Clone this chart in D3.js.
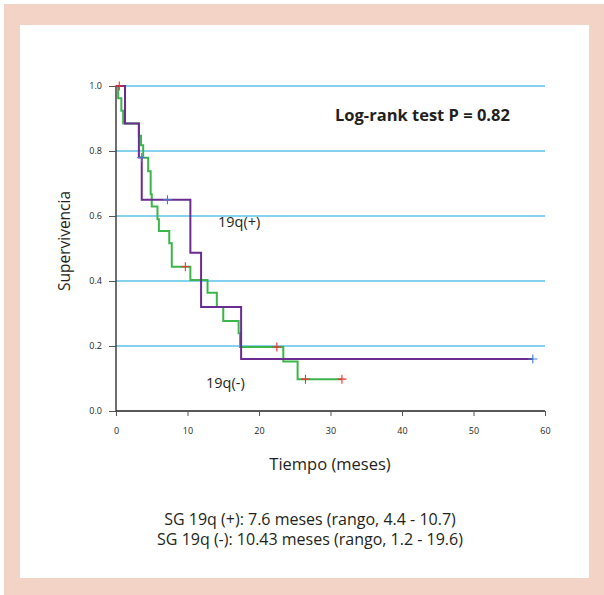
<!DOCTYPE html>
<html>
<head>
<meta charset="utf-8">
<script src="https://cdn.jsdelivr.net/npm/d3@7"></script>
<style>
body { margin: 0; background: #fff; }
text { font-family: "Open Sans", "DejaVu Sans", sans-serif; fill: #231f20; }
</style>
</head>
<body>
<div id="chart"></div>
<script>
// 19q(+) group (purple)
let posTimes = [0, 1.26, 3.2, 3.6, 10.4, 11.9, 17.5, 58.3];
let posSurv = [1.0, 0.885, 0.78, 0.65, 0.487, 0.32, 0.16, 0.16];
let posCensT = [3.6, 7.2, 58.3];
let posCensS = [0.78, 0.65, 0.16];

// 19q(-) group (green)
let negTimes = [0, 0.3, 0.75, 1.0, 3.2, 3.5, 3.8, 4.5, 4.85, 5.0, 5.8, 6.0, 7.45, 7.8, 10.4, 12.8, 14.1, 15.0, 17.15, 17.35, 23.4, 25.4, 31.6];
let negSurv = [1.0, 0.962, 0.924, 0.885, 0.847, 0.818, 0.779, 0.738, 0.667, 0.629, 0.59, 0.554, 0.516, 0.444, 0.403, 0.364, 0.32, 0.277, 0.239, 0.197, 0.152, 0.098, 0.098];
let negCensT = [0.46, 9.7, 22.5, 26.5, 31.6];
let negCensS = [1.0, 0.444, 0.197, 0.098, 0.098];

let xTicks = [0, 10, 20, 30, 40, 50, 60];
let yTicks = [0, 0.2, 0.4, 0.6, 0.8, 1.0];
let gridVals = [0.2, 0.4, 0.6, 0.8, 1.0];

let W = 604, H = 595;
var svg = d3.select('#chart').append('svg')
	.attr('width', W)
	.attr('height', H)

// frame
svg.append('rect').attr('x', 4).attr('y', 4).attr('width', 600).attr('height', 591).attr('fill', '#f2d3c5')
svg.append('rect').attr('x', 20).attr('y', 25).attr('width', 569).attr('height', 553).attr('fill', '#ffffff')

var x = d3.scaleLinear().domain([0, 60]).range([116, 545]);
var y = d3.scaleLinear().domain([0, 1]).range([411, 86]);

// grid
svg.selectAll('line.grid').data(gridVals).enter()
	.append('line')
	.attr('class', 'grid')
	.attr('x1', x(0)).attr('x2', x(60))
	.attr('y1', d => y(d)).attr('y2', d => y(d))
	.attr('stroke', '#5cc3ea')
	.attr('stroke-width', 1.3)

// axes
var xAxis = svg.append('g')
	.attr('transform', 'translate(0,' + y(0) + ')')
	.call(d3.axisBottom(x).tickValues(xTicks).tickSize(5).tickPadding(12).tickFormat(d3.format('d')))
var yAxis = svg.append('g')
	.attr('transform', 'translate(' + x(0) + ',0)')
	.call(d3.axisLeft(y).tickValues(yTicks).tickSize(7).tickPadding(7).tickFormat(d3.format('.1f')))
svg.selectAll('.domain').attr('stroke', '#231f20').attr('stroke-width', 1.3)
svg.selectAll('.tick line').attr('stroke', '#555').attr('stroke-width', 1)
svg.selectAll('.tick text').style('font-size', '9px').style('font-family', '"Open Sans", sans-serif').attr('fill', '#333')
// remove outer ticks from domain path
xAxis.select('.domain').attr('d', 'M' + x(0) + ',0H' + x(60))
yAxis.select('.domain').attr('d', 'M0,' + y(0) + 'V' + y(1))

var line = d3.line()
	.x(d => x(d[0]))
	.y(d => y(d[1]))
	.curve(d3.curveStepAfter)

svg.append('path')
	.datum(negTimes.map((t, i) => [t, negSurv[i]]))
	.attr('d', line)
	.attr('fill', 'none')
	.attr('stroke', '#3cb54a')
	.attr('stroke-width', 2)

svg.append('path')
	.datum(posTimes.map((t, i) => [t, posSurv[i]]))
	.attr('d', line)
	.attr('fill', 'none')
	.attr('stroke', '#6a2c91')
	.attr('stroke-width', 2)

function drawCensors(ts, ss, color){
	var s = 4.5;
	ts.forEach(function(t, i){
		var cx = x(t), cy = y(ss[i]);
		svg.append('path')
			.attr('d', 'M' + (cx - s) + ',' + cy + 'H' + (cx + s) + 'M' + cx + ',' + (cy - s) + 'V' + (cy + s))
			.attr('stroke', color)
			.attr('stroke-width', 1.1)
	})
}
drawCensors(negCensT, negCensS, '#ff2a2a');
drawCensors(posCensT, posCensS, '#3b7fd0');

// labels
svg.append('text').attr('x', 218).attr('y', 227).style('font-size', '14.5px').text('19q(+)')
svg.append('text').attr('x', 206).attr('y', 388).style('font-size', '14.5px').text('19q(-)')
svg.append('text').attr('x', 335).attr('y', 121).style('font-size', '16.5px').style('font-weight', 'bold').text('Log-rank test P = 0.82')

svg.append('text')
	.attr('transform', 'translate(70,241) rotate(-90)')
	.attr('text-anchor', 'middle')
	.style('font-size', '15.5px')
	.text('Supervivencia')
svg.append('text').attr('x', 330).attr('y', 470).attr('text-anchor', 'middle').style('font-size', '16.5px').text('Tiempo (meses)')

svg.append('text').attr('x', 310).attr('y', 525).attr('text-anchor', 'middle').style('font-size', '16px').text('SG 19q (+): 7.6 meses (rango, 4.4 - 10.7)')
svg.append('text').attr('x', 310).attr('y', 545).attr('text-anchor', 'middle').style('font-size', '16px').text('SG 19q (-): 10.43 meses (rango, 1.2 - 19.6)')
</script>
</body>
</html>
